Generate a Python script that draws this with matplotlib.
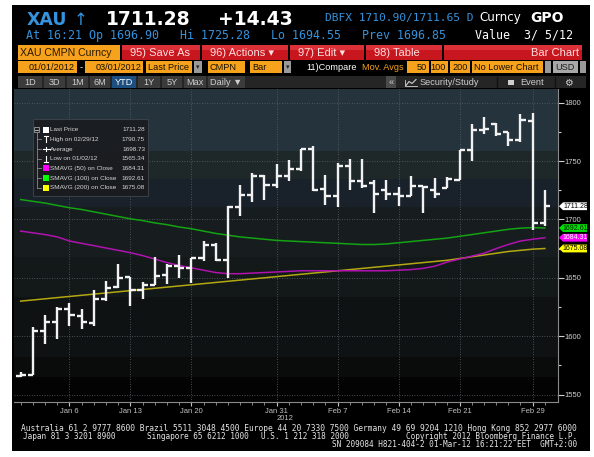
import matplotlib
matplotlib.use('Agg')
import matplotlib.pyplot as plt
from matplotlib.patches import Rectangle, Polygon
from matplotlib.transforms import blended_transform_factory
import numpy as np

plt.rcParams['font.family'] = ['Liberation Sans', 'DejaVu Sans']

# ---------------- data ----------------
dates = ['01/02', '01/03', '01/04', '01/05', '01/06', '01/09', '01/10', '01/11', '01/12', '01/13',
         '01/16', '01/17', '01/18', '01/19', '01/20', '01/23', '01/24', '01/25', '01/26', '01/27',
         '01/30', '01/31', '02/01', '02/02', '02/03', '02/06', '02/07', '02/08', '02/09', '02/10',
         '02/13', '02/14', '02/15', '02/16', '02/17', '02/20', '02/21', '02/22', '02/23', '02/24',
         '02/27', '02/28', '02/29', '03/01']
opens = [1566.0, 1567.0, 1604.0, 1612.0, 1623.0, 1617.5, 1611.0, 1632.0, 1642.0, 1650.5,
         1639.3, 1643.5, 1652.7, 1660.5, 1658.5, 1666.7, 1678.2, 1665.6, 1710.4, 1720.8,
         1737.0, 1729.8, 1737.0, 1743.4, 1760.1, 1726.0, 1720.0, 1745.7, 1732.7, 1731.2,
         1725.4, 1722.0, 1719.7, 1728.3, 1725.0, 1726.9, 1734.1, 1759.5, 1776.6, 1781.8,
         1774.6, 1767.9, 1784.7, 1696.9]
highs = [1569.0, 1607.5, 1618.0, 1624.6, 1628.0, 1623.0, 1639.8, 1647.0, 1662.0, 1650.8,
         1646.3, 1667.5, 1662.2, 1669.9, 1667.0, 1681.4, 1679.4, 1711.5, 1729.8, 1739.9,
         1738.4, 1747.7, 1750.6, 1760.1, 1763.0, 1738.4, 1748.6, 1752.0, 1752.0, 1734.1,
         1734.1, 1727.7, 1737.0, 1728.3, 1735.5, 1736.4, 1759.5, 1781.8, 1787.6, 1782.7,
         1775.1, 1790.5, 1790.75, 1725.28]
lows = [1565.34, 1566.5, 1593.5, 1597.5, 1608.8, 1606.0, 1609.0, 1630.0, 1641.0, 1625.7,
        1631.4, 1644.0, 1645.0, 1649.9, 1645.6, 1664.2, 1664.2, 1650.0, 1702.9, 1715.3,
        1716.8, 1726.9, 1733.2, 1741.3, 1724.0, 1712.4, 1710.4, 1724.9, 1726.9, 1705.2,
        1716.2, 1711.6, 1719.7, 1705.8, 1718.2, 1726.9, 1733.5, 1750.0, 1773.1, 1771.1,
        1763.0, 1766.5, 1690.8, 1694.55]
closes = [1566.5, 1604.0, 1612.0, 1623.0, 1618.0, 1612.5, 1632.2, 1641.5, 1650.0, 1639.3,
          1643.5, 1651.7, 1660.5, 1658.5, 1666.7, 1678.2, 1665.6, 1710.5, 1720.8, 1737.0,
          1729.8, 1737.0, 1743.4, 1760.1, 1725.4, 1720.2, 1745.7, 1732.7, 1728.9, 1722.0,
          1722.0, 1719.7, 1728.3, 1727.7, 1722.0, 1734.7, 1759.5, 1776.6, 1777.5, 1773.1,
          1767.9, 1785.3, 1696.85, 1711.28]
sma50 = [1690.0, 1688.5, 1687.0, 1685.0, 1681.5, 1679.5, 1677.5, 1675.5, 1673.5, 1671.5,
         1669.0, 1666.0, 1663.0, 1660.5, 1658.5, 1656.5, 1654.5, 1653.5, 1653.5, 1654.0,
         1654.5, 1655.0, 1655.5, 1656.0, 1656.0, 1656.0, 1656.0, 1656.0, 1656.0, 1656.0,
         1656.0, 1656.5, 1657.0, 1658.0, 1660.0, 1663.5, 1666.0, 1668.5, 1671.0, 1675.0,
         1678.5, 1681.5, 1683.0, 1684.31]
sma100 = [1717.0, 1715.5, 1714.0, 1712.0, 1710.0, 1708.5, 1706.5, 1704.5, 1702.5, 1700.5,
          1699.0, 1697.0, 1695.5, 1693.5, 1692.0, 1690.0, 1688.0, 1686.5, 1685.0, 1684.0,
          1683.0, 1682.0, 1681.5, 1681.0, 1680.5, 1680.0, 1679.5, 1679.0, 1678.5, 1678.5,
          1679.0, 1680.0, 1681.0, 1682.0, 1683.0, 1684.0, 1685.5, 1687.0, 1688.5, 1690.0,
          1691.5, 1692.5, 1693.0, 1692.61]
sma200 = [1630.0, 1631.0, 1632.0, 1633.0, 1634.0, 1635.0, 1636.0, 1637.0, 1638.0, 1639.0,
          1640.0, 1641.0, 1642.0, 1643.0, 1644.0, 1645.0, 1646.0, 1647.0, 1648.0, 1649.0,
          1650.0, 1651.0, 1652.0, 1653.0, 1654.0, 1655.0, 1656.0, 1657.0, 1658.0, 1659.0,
          1660.0, 1661.0, 1662.0, 1663.0, 1664.0, 1665.0, 1666.5, 1668.0, 1669.5, 1671.0,
          1672.5, 1673.5, 1674.5, 1675.08]
date_tick_labels = ['Jan 6', 'Jan 13', 'Jan 20', 'Jan 31', 'Feb 7', 'Feb 14', 'Feb 21', 'Feb 29']
date_tick_days = ['01/06', '01/13', '01/20', '01/31', '02/07', '02/14', '02/21', '02/29']
price_ticks = [1550, 1600, 1650, 1700, 1750, 1800]
legend_labels = ['Last Price', 'High on 02/29/12', 'Average', 'Low on 01/02/12',
                 'SMAVG (50) on Close', 'SMAVG (100) on Close', 'SMAVG (200) on Close']
legend_values = ['1711.28', '1790.75', '1698.73', '1565.34', '1684.31', '1692.61', '1675.08']

W, H = 594, 457
fig = plt.figure(figsize=(W / 100, H / 100), dpi=100, facecolor='white')
fig.patches.append(Rectangle((12 / W, 1 - 451 / H), (590 - 12) / W, (451 - 5) / H,
                             transform=fig.transFigure, facecolor='black', edgecolor='none',
                             zorder=-10))

# ---------------- chart ----------------
X0, X1, Y0, Y1 = 14, 558, 89, 402
ax = fig.add_axes([X0 / W, 1 - Y1 / H, (X1 - X0) / W, (Y1 - Y0) / H])
ymin, ymax = 1543.6, 1811.7
ax.set_xlim(-0.55, 44.08)
ax.set_ylim(ymin, ymax)
ax.set_facecolor('#030303')
bands = [(1758.4, ymax, '#24333c'), (1734.4, 1758.4, '#1f2829'), (1710.3, 1734.4, '#19212b'),
         (1668.2, 1710.3, '#171d1f'), (1633.8, 1668.2, '#131818'), (1582.3, 1633.8, '#0f1212'),
         (1565.1, 1582.3, '#0a0b0b')]
for lo, hi, c in bands:
    ax.axhspan(lo, hi, color=c, lw=0, zorder=0)

idx = np.arange(len(dates))
tick_idx = [dates.index(d) for d in date_tick_days]
for p in price_ticks:
    ax.axhline(p, color='#5d646c', lw=0.6, ls=(0, (1, 2)), zorder=1)
for t in tick_idx:
    ax.axvline(t, color='#5d646c', lw=0.6, ls=(0, (1, 2)), zorder=1)

ax.plot(idx, sma200, color='#b3a813', lw=1.1, zorder=2)
ax.plot(idx, sma100, color='#13a313', lw=1.1, zorder=2)
ax.plot(idx, sma50, color='#b012b0', lw=1.1, zorder=2)

bc = '#f2f2f2'
ax.vlines(idx, lows, highs, color=bc, lw=1.7, zorder=3)
ax.hlines(opens, idx - 0.42, idx, color=bc, lw=1.7, zorder=3)
ax.hlines(closes, idx, idx + 0.42, color=bc, lw=1.7, zorder=3)

for s in ['top', 'left']:
    ax.spines[s].set_visible(False)
for s in ['bottom', 'right']:
    ax.spines[s].set_color('#8a8a8a')
    ax.spines[s].set_linewidth(0.8)
ax.yaxis.tick_right()
ax.set_yticks(price_ticks)
ax.set_yticklabels([str(p) for p in price_ticks])
ax.set_yticks([p + 25 for p in price_ticks[:-1]], minor=True)
ax.set_xticks(tick_idx)
ax.set_xticklabels(date_tick_labels)
ax.set_xticks(idx, minor=True)
ax.tick_params(axis='y', which='major', colors='#d0d0d0', labelsize=5.5, length=4, pad=1, width=0.8)
ax.tick_params(axis='y', which='minor', colors='#d0d0d0', length=2.5, width=0.8)
ax.tick_params(axis='x', which='major', colors='#c0c0c0', labelsize=5.5, length=3, pad=1.5, width=0.8)
ax.tick_params(axis='x', which='minor', colors='#a0a0a0', length=2, width=0.6)

# price tags on the right
tr = blended_transform_factory(ax.transAxes, ax.transData)
axw = X1 - X0
hh = 3.9 * (ymax - ymin) / (Y1 - Y0)
tags = [(closes[-1], '#ffffff', '#000000'), (sma100[-1], '#00e000', '#002200'),
        (sma50[-1], '#ff00ff', '#ffffff'), (sma200[-1], '#ffff00', '#000000')]
for v, fc, tc in tags:
    pts = [(1 + 1 / axw, v), (1 + 5 / axw, v + hh), (1 + 29 / axw, v + hh),
           (1 + 29 / axw, v - hh), (1 + 5 / axw, v - hh)]
    ax.add_patch(Polygon(pts, closed=True, facecolor=fc, edgecolor='none',
                         transform=tr, clip_on=False, zorder=5))
    ax.text(1 + 17.5 / axw, v, f'{v:.2f}', transform=tr, color=tc, fontsize=5,
            ha='center', va='center', clip_on=False, zorder=6)

# ---------------- overlay (header, legend, footer) ----------------
ov = fig.add_axes([0, 0, 1, 1], facecolor='none')
ov.set_xlim(0, W)
ov.set_ylim(H, 0)
ov.axis('off')


def box(x0, y0, x1, y1, fc, ec='none', lw=0, z=2, alpha=1.0):
    ov.add_patch(Rectangle((x0, y0), x1 - x0, y1 - y0, facecolor=fc, edgecolor=ec,
                           lw=lw, zorder=z, alpha=alpha))


mono = ['DejaVu Sans Mono']
blue = '#3592dc'
# row 1
ov.text(27, 25, 'XAU', color=blue, fontsize=12.5, fontweight='bold',
        family=['DejaVu Sans'], va='baseline')
ov.text(74, 25, '↑', color=blue, fontsize=12, family=['DejaVu Sans'], va='baseline')
ov.text(106, 25, '1711.28', color='white', fontsize=13.5, fontweight='bold',
        family=['DejaVu Sans'], va='baseline')
ov.text(218, 25, '+14.43', color='white', fontsize=13.5, fontweight='bold',
        family=['DejaVu Sans'], va='baseline')
ov.text(325, 21.5, 'DBFX 1710.90/1711.65 D', color=blue, fontsize=8.1, family=mono, va='baseline')
ov.text(479, 21.5, 'Curncy', color='white', fontsize=8.6, family=['DejaVu Sans'], va='baseline')
ov.text(530, 21.5, 'GPO', color='white', fontsize=10, fontweight='bold', family=['DejaVu Sans'],
        va='baseline')
# row 2
ov.text(26, 39, 'At 16:21 Op 1696.90   Hi 1725.28   Lo 1694.55   Prev 1696.85',
        color=blue, fontsize=8.4, family=mono, va='baseline')
ov.text(26 + 64 * 7.02, 39, 'Value  3/ 5/12', color='white', fontsize=8.4, family=mono, va='baseline')

# row 3
orange = '#f6a21c'
red = '#c8161e'
box(18, 45, 120, 60, orange)
ov.text(20, 53, 'XAU CMPN Curncy', color='#2a1a00', fontsize=7.6, va='center')
for (x0, x1, lab) in [(122, 200, '95) Save As'), (202, 288, '96) Actions ▾'),
                      (290, 364, '97) Edit ▾'), (366, 442, '98) Table'), (444, 582, '')]:
    box(x0, 45, x1, 60, red)
    box(x0, 45, x1, 50, '#dc3038')
    if lab:
        ov.text(x0 + 8, 53, lab, color='#ffe0e0', fontsize=8, va='center')
ov.text(579, 53, 'Bar Chart', color='#ffe0e0', fontsize=8, va='center', ha='right')

# row 4
ry0, ry1 = 61, 73
rc = (ry0 + ry1) / 2 + 0.5
box(18, ry0, 77, ry1, orange)
ov.text(75, rc, '01/01/2012', color='#1a1000', fontsize=6.6, va='center', ha='right')
ov.text(81, rc, '-', color='white', fontsize=6.6, va='center', ha='center')
box(85, ry0, 143, ry1, orange)
ov.text(141, rc, '03/01/2012', color='#1a1000', fontsize=6.6, va='center', ha='right')
box(146, ry0, 192, ry1, orange)
ov.text(148, rc, 'Last Price', color='#1a1000', fontsize=6.6, va='center')
box(194, ry0, 202, ry1, '#9a9a9a')
ov.text(198, rc, '▾', color='#202020', fontsize=5, va='center', ha='center', family=['DejaVu Sans'])
box(208, ry0, 245, ry1, orange)
ov.text(210, rc, 'CMPN', color='#1a1000', fontsize=6.6, va='center')
box(250, ry0, 282, ry1, orange)
ov.text(252, rc, 'Bar', color='#1a1000', fontsize=6.6, va='center')
box(284, ry0, 291, ry1, '#9a9a9a')
ov.text(287.5, rc, '▾', color='#202020', fontsize=5, va='center', ha='center', family=['DejaVu Sans'])
ov.text(306, rc, '11)Compare', color='white', fontsize=6.6, va='center')
ov.text(362, rc, 'Mov. Avgs', color=orange, fontsize=6.6, va='center')
for (x0, x1, lab) in [(407, 429, '50'), (431, 448, '100'), (450, 470, '200')]:
    box(x0, ry0, x1, ry1, orange)
    ov.text(x1 - 2, rc, lab, color='#1a1000', fontsize=6.6, va='center', ha='right')
box(472, ry0, 543, ry1, orange)
ov.text(474, rc, 'No Lower Chart', color='#1a1000', fontsize=6.6, va='center')
box(545, ry0, 551, ry1, '#9a9a9a')
box(553, ry0, 578, ry1, '#a8a8a8')
ov.text(555, rc, 'USD', color='#202020', fontsize=6.6, va='center')
box(580, ry0, 586, ry1, '#9a9a9a')

# row 5
qy0, qy1 = 76, 88
qc = (qy0 + qy1) / 2 + 0.5
box(18, qy0, 586, qy1, '#252525')
for (x0, x1, lab) in [(18, 42, '1D'), (44, 65, '3D'), (67, 88, '1M'), (90, 110, '6M'),
                      (112, 136, 'YTD'), (138, 160, '1Y'), (162, 182, '5Y'), (184, 206, 'Max'),
                      (208, 245, 'Daily ▼')]:
    box(x0, qy0, x1, qy1, '#1d4f80' if lab == 'YTD' else '#3b3b3b')
    ov.text((x0 + x1) / 2, qc, lab, color='white' if lab == 'YTD' else '#cfcfcf',
            fontsize=6.6, va='center', ha='center')
box(386, qy0, 396, qy1, '#4a4a4a')
ov.text(391, qc, '«', color='#cfcfcf', fontsize=6.6, va='center', ha='center')
# small chart icon (drawn shape)
ov.plot([406, 409, 412, 416], [qc + 3, qc - 1, qc + 1, qc - 3], color='#cfcfcf', lw=0.8, zorder=4)
ov.plot([405, 405, 417], [qc - 3, qc + 3.5, qc + 3.5], color='#cfcfcf', lw=0.6, zorder=4)
ov.text(420, qc, 'Security/Study', color='#cfcfcf', fontsize=6.6, va='center')
ov.plot([497, 497], [qy0 + 1, qy1 - 1], color='#111111', lw=1)
box(508, qc - 3, 514, qc + 2, '#cfcfcf')
ov.text(520, qc, 'Event', color='#cfcfcf', fontsize=6.6, va='center')
ov.plot([555, 555], [qy0 + 1, qy1 - 1], color='#111111', lw=1)
ov.text(568, qc, '⚙', color='#cfcfcf', fontsize=7, va='center', ha='center', family=['DejaVu Sans'])

# legend
box(33, 119, 148, 196, '#1a1c1f', ec='#3d4248', lw=0.8, z=3, alpha=0.93)
row_y = [129.8 + 9.65 * k for k in range(len(legend_labels))]
lc = '#d4d4d4'
box(34, row_y[0] - 2.5, 39, row_y[0] + 2.5, 'none', ec='#a0a0a0', lw=0.6, z=4)
ov.plot([35, 38], [row_y[0], row_y[0]], color='#d0d0d0', lw=0.6, zorder=4)
ov.plot([36.5, 36.5], [row_y[0] + 2.5, row_y[-1]], color='#8a8a8a', lw=0.6, zorder=4)
for k, yk in enumerate(row_y):
    if k > 0:
        ov.plot([36.5, 41], [yk, yk], color='#8a8a8a', lw=0.6, zorder=4)
    ov.text(50, yk, legend_labels[k], color=lc, fontsize=4.6, va='center', zorder=5)
    ov.text(145, yk, legend_values[k], color=lc, fontsize=4.6, va='center', ha='right', zorder=5)
box(43, row_y[0] - 3, 49, row_y[0] + 3, 'white', z=5)
y1_ = row_y[1]
ov.plot([44, 48], [y1_ - 3, y1_ - 3], color='white', lw=0.8, zorder=5)
ov.plot([46, 46], [y1_ - 3, y1_ + 3], color='white', lw=0.8, zorder=5)
y2_ = row_y[2]
ov.plot([42.5, 49.5], [y2_, y2_], color='white', lw=0.8, zorder=5)
ov.plot([46, 46], [y2_ - 2, y2_ + 2], color='white', lw=0.8, zorder=5)
y3_ = row_y[3]
ov.plot([44, 48], [y3_ + 3, y3_ + 3], color='white', lw=0.8, zorder=5)
ov.plot([46, 46], [y3_ - 3, y3_ + 3], color='white', lw=0.8, zorder=5)
for k, c in zip([4, 5, 6], ['#ff00ff', '#00ff00', '#ffff00']):
    box(43, row_y[k] - 3, 49, row_y[k] + 3, c, z=5)

# year label + footer
ov.text(285, 418, '2012', color='#c0c0c0', fontsize=5.5, ha='center', va='center')
ftc = '#e6e6e6'
fs = 5.6
ov.text(577, 428.5, 'Australia 61 2 9777 8600 Brazil 5511 3048 4500 Europe 44 20 7330 7500 '
        'Germany 49 69 9204 1210 Hong Kong 852 2977 6000', color=ftc, fontsize=5.65,
        family=mono, ha='right', va='center')
ov.text(22.7, 436.3, 'Japan 81 3 3201 8900', color=ftc, fontsize=fs, family=mono, va='center')
ov.text(147, 436.3, 'Singapore 65 6212 1000', color=ftc, fontsize=fs, family=mono, va='center')
ov.text(261, 436.3, 'U.S. 1 212 318 2000', color=ftc, fontsize=fs, family=mono, va='center')
ov.text(577, 436.3, 'Copyright 2012 Bloomberg Finance L.P.', color=ftc, fontsize=fs,
        family=mono, ha='right', va='center')
ov.text(577, 444.1, 'SN 209084 H821-404-2 01-Mar-12 16:21:22 EET  GMT+2:00', color=ftc,
        fontsize=fs, family=mono, ha='right', va='center')

fig.savefig('out.png', dpi=100, facecolor='white')
